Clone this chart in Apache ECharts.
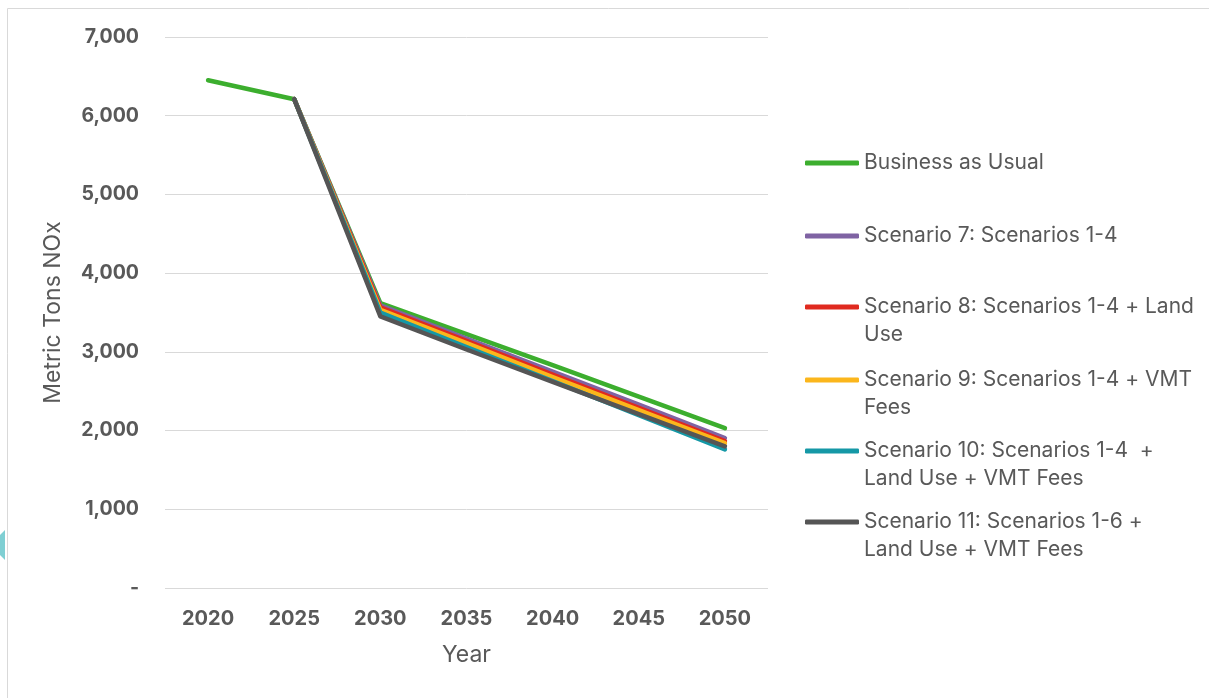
<!DOCTYPE html>
<html><head><meta charset="utf-8">
<script src="https://cdn.jsdelivr.net/npm/echarts@6/dist/echarts.min.js"></script>
<style>html,body{margin:0;padding:0;background:#fff}#c{width:1209px;height:698px}</style>
</head><body><div id="c"></div>
<script>
const years = ['2020','2025','2030','2035','2040','2045','2050'];
const yTicks = [0,1000,2000,3000,4000,5000,6000,7000];
const seriesNames = ['Business as Usual','Scenario 7: Scenarios 1-4','Scenario 8: Scenarios 1-4 + Land Use','Scenario 9: Scenarios 1-4 + VMT Fees','Scenario 10: Scenarios 1-4  + Land Use + VMT Fees','Scenario 11: Scenarios 1-6 + Land Use + VMT Fees'];
const legendLabels = ['Business as Usual','Scenario 7: Scenarios 1-4','\nScenario 8: Scenarios 1-4 + Land\nUse','\nScenario 9: Scenarios 1-4 + VMT\nFees','\nScenario 10: Scenarios 1-4  +\nLand Use + VMT Fees','\nScenario 11: Scenarios 1-6 +\nLand Use + VMT Fees'];
const bau  = [6450,6210,3620,3225,2830,2430,2030];
const s7   = [null,6210,3590,3170,2750,2330,1905];
const s8   = [null,6210,3565,3140,2710,2290,1865];
const s9   = [null,6210,3535,3110,2680,2260,1840];
const s10  = [null,6210,3500,3060,2630,2195,1760];
const s11  = [null,6210,3450,3030,2620,2210,1800];
const seriesData = [bau,s7,s8,s9,s10,s11];
const colors = ['#3cae2e','#7f63a3','#e02a1f','#fbb61c','#1598a6','#555555'];
const legendTops = [144,217,260,333,404,475];

const chart = echarts.init(document.getElementById('c'));
const FONT = 'Inter';
chart.setOption({
  animation:false,
  textStyle:{fontFamily:FONT},
  graphic:[
    {type:'rect',shape:{x:7.5,y:8.5,width:1220,height:720},style:{fill:'none',stroke:'#d9d9d9',lineWidth:1},silent:true},
    {type:'polygon',shape:{points:[[5,530],[5,560],[-10,545]]},style:{fill:'#7fcfd3'},silent:true}
  ],
  grid:{left:165,right:441,top:37,bottom:110,containLabel:false},
  legend: seriesNames.map((n,i)=>({
    data:[n], left:800, top:legendTops[i], orient:'vertical',
    icon:'roundRect', itemWidth:54, itemHeight:5,
    itemStyle:{color:colors[i]},
    textStyle:{fontFamily:FONT,fontSize:21,color:'#595959',lineHeight:28},
    formatter:()=>legendLabels[i], selectedMode:false
  })),
  xAxis:{type:'category',data:years,boundaryGap:true,
    axisLine:{show:false},axisTick:{show:false},
    axisLabel:{fontFamily:FONT,fontSize:20,fontWeight:'bold',color:'#595959',margin:21},
    name:'Year',nameLocation:'middle',nameGap:56,
    nameTextStyle:{fontFamily:FONT,fontSize:23,color:'#595959'}},
  yAxis:{type:'value',min:0,max:7000,interval:1000,
    axisLine:{show:false},axisTick:{show:false},
    splitLine:{lineStyle:{color:'#d9d9d9',width:1}},
    axisLabel:{fontFamily:FONT,fontSize:19.5,fontWeight:'bold',color:'#595959',margin:26,
      formatter:v=> v===0?'-':v.toLocaleString('en-US')},
    name:'Metric Tons NOx',nameLocation:'middle',nameGap:100,
    nameTextStyle:{fontFamily:FONT,fontSize:23,color:'#595959'}},
  series: seriesNames.map((n,i)=>({
    name:n,type:'line',data:seriesData[i],showSymbol:false,symbol:'none',
    lineStyle:{color:colors[i],width:4.5,cap:'round',join:'round'},
    itemStyle:{color:colors[i]},connectNulls:false
  }))
});
</script></body></html>
